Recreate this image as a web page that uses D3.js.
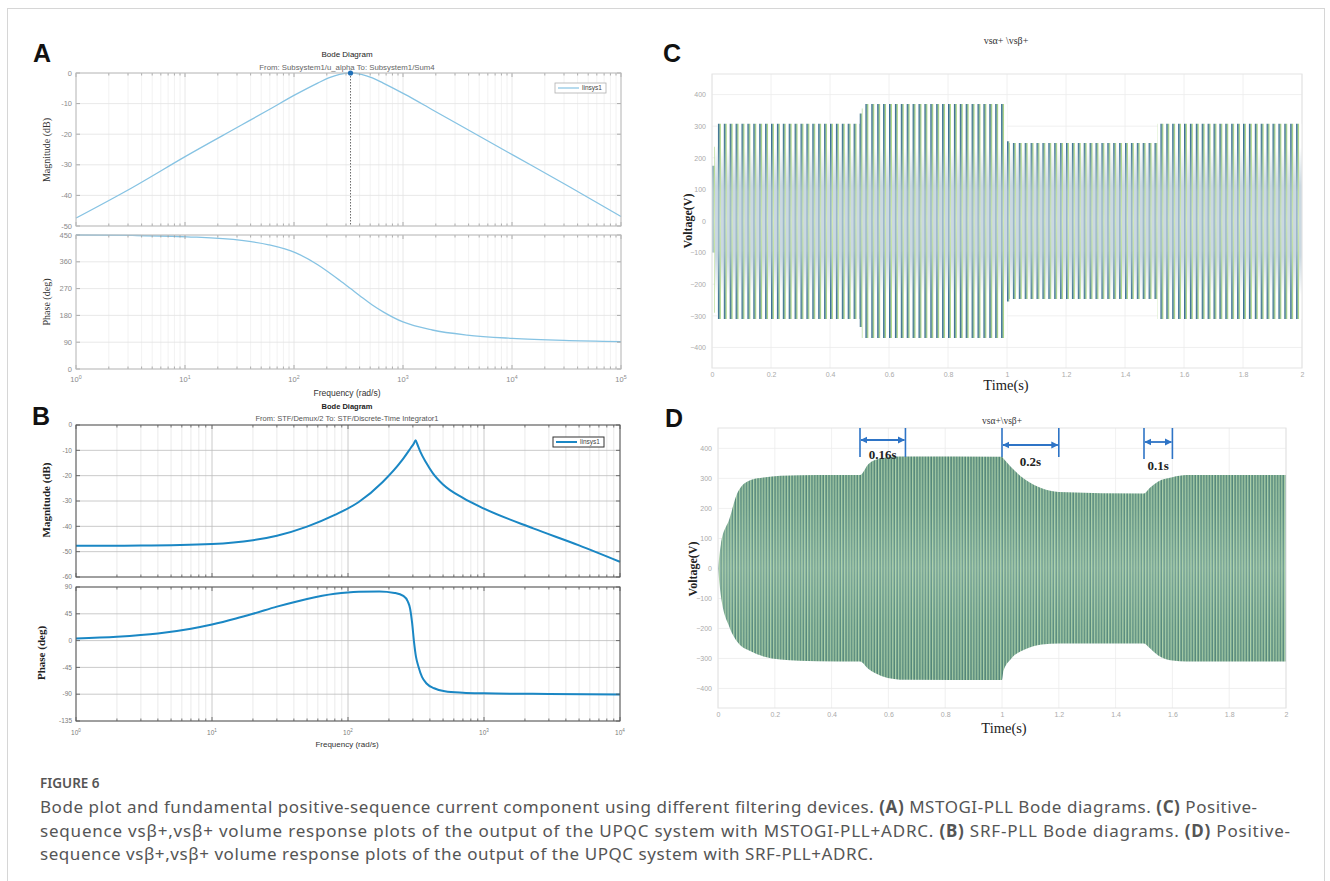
<!DOCTYPE html>
<html>
<head>
<meta charset="utf-8">
<script src="https://cdn.jsdelivr.net/npm/d3@7"></script>
<style>
  body { margin: 0; background: #fff; }
  svg { display: block; }
</style>
</head>
<body>
<svg id="fig" width="1330" height="881"></svg>
<script>
// Figure 6: Bode plots (A, B) and positive-sequence voltage responses (C, D)

// ---- panel A: MSTOGI-PLL bode ----
const freqMagA = [1, 3.3, 10.4, 33, 58.7, 104, 165, 208, 262, 330, 415, 523, 658, 1044, 1856, 3300, 10436, 33000, 100000];
const magA = [-47.4, -37.4, -27, -17, -12, -7, -3.3, -1.6, -0.44, 0, -0.44, -1.6, -3.3, -7, -12, -17, -27, -37, -46.9];
const freqPhaseA = [1, 3.3, 10.4, 33, 58.7, 104, 165, 208, 262, 330, 415, 523, 658, 1000, 1856, 3865, 10000, 30000, 100000];
const phaseA = [450, 448.5, 444, 432, 417, 390, 350, 325, 298, 270, 242, 215, 192, 158, 131, 114, 103, 96, 92];
const peakA = [330, 0];

// ---- panel B: SRF-PLL bode ----
const freqMagB = [1, 3, 10, 20, 30, 50, 80, 120, 180, 250, 290, 305, 314, 323, 340, 377, 420, 500, 700, 1000, 2300, 5000, 10000];
const magB = [-47.7, -47.6, -47, -45.5, -43.7, -40.1, -35.5, -30.4, -22.5, -13.9, -9, -7.3, -6, -7.5, -10.5, -15, -19, -23.5, -28.8, -33, -40.8, -47.5, -54];
const freqPhaseB = [1, 2, 4, 7, 10, 15, 20, 30, 50, 80, 120, 170, 220, 255, 275, 286, 296, 306, 316, 329, 350, 378, 430, 515, 700, 1000, 3000, 10000];
const phaseB = [3.5, 6.5, 12, 20, 27, 37, 45, 57, 70, 78.5, 82, 82.5, 80, 75, 66, 54, 30, -3, -27, -43, -61, -72, -80, -85, -87.5, -88.5, -89.6, -90.3];

// ---- panel C: MSTOGI-PLL+ADRC envelope (V), steps ----
const lineHz = 50;
const timeC = [0, 0.008, 0.018, 0.5, 0.508, 0.516, 1.0, 1.008, 1.51, 2.0];
const upperC = [175, 235, 308, 340, 356, 370, 252, 247, 308, 308];
const lowerC = [-100, -290, -310, -335, -370, -370, -255, -247, -310, -310];

// ---- panel D: SRF-PLL+ADRC envelope (V), smooth ----
const timeD = [0, 0.01, 0.04, 0.07, 0.115, 0.16, 0.22, 0.35, 0.5, 0.53, 0.575, 0.62, 0.66, 1.0, 1.005, 1.03, 1.08, 1.14, 1.2, 1.5, 1.52, 1.55, 1.6, 1.65, 2.0];
const upperD = [0, 80, 165, 255, 295, 303, 309, 311, 311, 348, 367, 372, 373, 372, 366, 340, 297, 267, 255, 250, 268, 290, 304, 311, 311];
const lowerD = [0, -90, -195, -247, -276, -293, -303, -309, -310, -335, -358, -368, -371, -372, -342, -303, -270, -253, -250, -250, -265, -290, -307, -310, -310];
const settleStart = [0.5, 1.0, 1.5];
const settleTime = [0.16, 0.2, 0.1];

// ---- ticks ----
const magTicksA = [-50, -40, -30, -20, -10, 0];
const phaseTicksA = [0, 90, 180, 270, 360, 450];
const magTicksB = [-60, -50, -40, -30, -20, -10, 0];
const phaseTicksB = [-135, -90, -45, 0, 45, 90];
const timeTicks = [0, 0.2, 0.4, 0.6, 0.8, 1, 1.2, 1.4, 1.6, 1.8, 2];
const voltTicks = [-400, -300, -200, -100, 0, 100, 200, 300, 400];

const W = 1330, H = 881;
const sans = "'Liberation Sans', Arial, sans-serif";
const serif = "'Liberation Serif', 'Times New Roman', serif";
const capFont = "'Noto Sans', 'Open Sans', sans-serif";

const svg = d3.select("#fig");
const defs = svg.append("defs");

svg.append("rect")
  .attr("x", 7.5).attr("y", 8.5).attr("width", 1317).attr("height", 890)
  .attr("fill", "none").attr("stroke", "#d6d6d6");

// scales
const xA = d3.scaleLog().domain([1, 1e5]).range([76, 621]);
const yMagA = d3.scaleLinear().domain([-50, 0]).range([226, 73]);
const yPhA = d3.scaleLinear().domain([0, 450]).range([369, 235]);
const xB = d3.scaleLog().domain([1, 1e4]).range([76, 620]);
const yMagB = d3.scaleLinear().domain([-60, 0]).range([577, 425]);
const yPhB = d3.scaleLinear().domain([-135, 90]).range([721, 587]);
const xC = d3.scaleLinear().domain([0, 2]).range([712, 1302]);
const yC = d3.scaleLinear().domain([-465, 465]).range([368, 74]);
const xD = d3.scaleLinear().domain([0, 2]).range([718, 1286]);
const yD = d3.scaleLinear().domain([-465, 468]).range([708, 428]);

const isDecade = d => Math.abs(Math.log10(d) - Math.round(Math.log10(d))) < 1e-9;

const styleA = { grid: "#efefef", gridMajor: "#e2e2e2", frame: "#bdbdbd", tick: "#9a9a9a", label: "#8a8a8a", fs: 7.5, xlab: 13 };
const styleB = { grid: "#e4e4e4", gridMajor: "#bcbcbc", frame: "#5a5a5a", tick: "#555", label: "#7a7a7a", fs: 6.5, xlab: 14 };

function logGrid(g, x, y, yTicks, st) {
  const [xl, xr] = x.range();
  const [yb, yt] = y.range();
  g.append("g").selectAll("line").data(x.ticks()).join("line")
    .attr("x1", d => x(d)).attr("x2", d => x(d))
    .attr("y1", yt).attr("y2", yb)
    .attr("stroke", d => isDecade(d) ? st.gridMajor : st.grid)
    .attr("stroke-width", 0.8);
  g.append("g").selectAll("line").data(yTicks).join("line")
    .attr("x1", xl).attr("x2", xr)
    .attr("y1", d => y(d)).attr("y2", d => y(d))
    .attr("stroke", st.gridMajor).attr("stroke-width", 0.8);
}

function logFrame(g, x, y, yTicks, st, xLabels) {
  const [xl, xr] = x.range();
  const [yb, yt] = y.range();
  const tk = g.append("g").attr("stroke", st.tick).attr("stroke-width", 0.8);
  x.ticks().forEach(d => {
    const len = isDecade(d) ? 4 : 2.5;
    tk.append("line").attr("x1", x(d)).attr("x2", x(d)).attr("y1", yb).attr("y2", yb - len);
    tk.append("line").attr("x1", x(d)).attr("x2", x(d)).attr("y1", yt).attr("y2", yt + len);
  });
  yTicks.forEach(d => {
    tk.append("line").attr("x1", xl).attr("x2", xl + 4).attr("y1", y(d)).attr("y2", y(d));
    tk.append("line").attr("x1", xr).attr("x2", xr - 4).attr("y1", y(d)).attr("y2", y(d));
  });
  g.append("rect")
    .attr("x", xl).attr("y", yt).attr("width", xr - xl).attr("height", yb - yt)
    .attr("fill", "none").attr("stroke", st.frame).attr("stroke-width", 1);

  g.append("g").selectAll("text").data(yTicks).join("text")
    .attr("x", xl - 4).attr("y", d => y(d)).attr("dy", "0.35em")
    .attr("text-anchor", "end").attr("font-family", sans)
    .attr("font-size", st.fs).attr("fill", st.label)
    .text(d => d);

  if (xLabels) {
    const lab = g.append("g").selectAll("text").data(x.ticks().filter(isDecade)).join("text")
      .attr("x", d => x(d)).attr("y", yb + st.xlab)
      .attr("text-anchor", "middle").attr("font-family", sans)
      .attr("font-size", st.fs).attr("fill", st.label);
    lab.append("tspan").text("10");
    lab.append("tspan").attr("dy", -3).attr("font-size", st.fs * 0.7)
      .text(d => Math.round(Math.log10(d)));
  }
}

function curve(g, x, y, fx, fy, color, width) {
  g.append("path")
    .datum(fx.map((f, i) => [f, fy[i]]))
    .attr("fill", "none").attr("stroke", color).attr("stroke-width", width)
    .attr("stroke-linejoin", "round")
    .attr("d", d3.line().x(d => x(d[0])).y(d => y(d[1])).curve(d3.curveMonotoneX));
}

function legend(g, x, y, st, color, width, frameColor) {
  g.append("rect").attr("x", x).attr("y", y).attr("width", 51).attr("height", 10)
    .attr("fill", "#fff").attr("stroke", frameColor).attr("stroke-width", st);
  g.append("line").attr("x1", x + 3).attr("x2", x + 24).attr("y1", y + 5).attr("y2", y + 5)
    .attr("stroke", color).attr("stroke-width", width);
  g.append("text").attr("x", x + 27).attr("y", y + 7.2)
    .attr("font-family", sans).attr("font-size", 6.5).attr("fill", "#444").text("linsys1");
}

function panelLetter(t, x, y) {
  svg.append("text").attr("x", x).attr("y", y)
    .attr("font-family", sans).attr("font-weight", "bold").attr("font-size", 25)
    .attr("fill", "#111").text(t);
}

function centered(txt, x, y, size, family, fill, weight) {
  return svg.append("text").attr("x", x).attr("y", y).attr("text-anchor", "middle")
    .attr("font-family", family).attr("font-size", size).attr("fill", fill)
    .attr("font-weight", weight || "normal").text(txt);
}

function rotated(txt, x, y, size, family, fill, weight) {
  return svg.append("text").attr("transform", `translate(${x},${y}) rotate(-90)`)
    .attr("text-anchor", "middle").attr("font-family", family).attr("font-size", size)
    .attr("fill", fill).attr("font-weight", weight || "normal").text(txt);
}

// ================= panel A =================
const gA = svg.append("g");
logGrid(gA, xA, yMagA, magTicksA, styleA);
logGrid(gA, xA, yPhA, phaseTicksA, styleA);
curve(gA, xA, yMagA, freqMagA, magA, "#86c3e3", 1.3);
curve(gA, xA, yPhA, freqPhaseA, phaseA, "#86c3e3", 1.3);
gA.append("line")
  .attr("x1", xA(peakA[0])).attr("x2", xA(peakA[0]))
  .attr("y1", yMagA(peakA[1])).attr("y2", yMagA.range()[0])
  .attr("stroke", "#444").attr("stroke-width", 0.8).attr("stroke-dasharray", "1.5,1.5");
logFrame(gA, xA, yMagA, magTicksA, styleA, false);
logFrame(gA, xA, yPhA, phaseTicksA, styleA, true);
gA.append("circle").attr("cx", xA(peakA[0])).attr("cy", yMagA(peakA[1])).attr("r", 2.6)
  .attr("fill", "#1f6fb8");
legend(gA, 555, 83, 0.8, "#86c3e3", 1.2, "#b0b0b0");

panelLetter("A", 33, 62);
centered("Bode Diagram", 347, 57, 8, sans, "#222");
centered("From: Subsystem1/u_alpha  To: Subsystem1/Sum4", 347, 70, 7.8, sans, "#666");
centered("Frequency  (rad/s)", 347, 396, 8.5, sans, "#333");
rotated("Magnitude (dB)", 50, 150, 10, serif, "#333");
rotated("Phase (deg)", 50, 302, 10, serif, "#333");

// ================= panel B =================
const gB = svg.append("g");
logGrid(gB, xB, yMagB, magTicksB, styleB);
logGrid(gB, xB, yPhB, phaseTicksB, styleB);
curve(gB, xB, yMagB, freqMagB, magB, "#1a87c4", 2);
curve(gB, xB, yPhB, freqPhaseB, phaseB, "#1a87c4", 2);
logFrame(gB, xB, yMagB, magTicksB, styleB, false);
logFrame(gB, xB, yPhB, phaseTicksB, styleB, true);
legend(gB, 553, 437, 1, "#1a87c4", 2, "#333");

panelLetter("B", 32, 425);
centered("Bode Diagram", 347, 409, 7.5, sans, "#222", "bold");
centered("From: STF/Demux/2 To: STF/Discrete-Time Integrator1", 347, 421, 7.5, sans, "#555");
centered("Frequency (rad/s)", 347, 747, 8, sans, "#333");
rotated("Magnitude (dB)", 50, 500, 11, serif, "#222", "bold");
rotated("Phase (deg)", 45, 653, 11, serif, "#222", "bold");

// ================= waveform panels =================
function waveGrid(g, x, y) {
  const [xl, xr] = x.range();
  const [yb, yt] = y.range();
  g.append("g").selectAll("line").data(timeTicks).join("line")
    .attr("x1", d => x(d)).attr("x2", d => x(d)).attr("y1", yt).attr("y2", yb)
    .attr("stroke", "#ececec").attr("stroke-width", 0.8);
  g.append("g").selectAll("line").data(voltTicks).join("line")
    .attr("x1", xl).attr("x2", xr).attr("y1", d => y(d)).attr("y2", d => y(d))
    .attr("stroke", "#ececec").attr("stroke-width", 0.8);
}

function waveAxes(g, x, y) {
  const [xl, xr] = x.range();
  const [yb, yt] = y.range();
  g.append("rect").attr("x", xl).attr("y", yt).attr("width", xr - xl).attr("height", yb - yt)
    .attr("fill", "none").attr("stroke", "#e3e3e3").attr("stroke-width", 1);
  const ax = g.append("g").attr("transform", `translate(0,${yb})`)
    .call(d3.axisBottom(x).tickValues(timeTicks).tickSize(0).tickPadding(4).tickFormat(d3.format("~g")));
  const ay = g.append("g").attr("transform", `translate(${xl},0)`)
    .call(d3.axisLeft(y).tickValues(voltTicks).tickSize(0).tickPadding(6));
  [ax, ay].forEach(a => {
    a.select(".domain").remove();
    a.selectAll("text").attr("fill", "#aaa").attr("font-size", 7).attr("font-family", sans);
  });
}

// stripe pattern for C: one tile per mains cycle
const cycleC = xC(1 / lineHz) - xC(0);
function vGrad(id, y, stops) {
  const gr = defs.append("linearGradient").attr("id", id).attr("gradientUnits", "userSpaceOnUse")
    .attr("x1", 0).attr("x2", 0).attr("y1", y.range()[1]).attr("y2", y.range()[0]);
  stops.forEach(s => gr.append("stop").attr("offset", s[0]).attr("stop-color", s[1]));
}
vGrad("gapC", yC, [[0, "#ffffff"], [0.25, "#ffffff"], [0.38, "#cad8e1"], [0.62, "#cad8e1"], [0.75, "#ffffff"], [1, "#ffffff"]]);
vGrad("darkC", yC, [[0, "#32698a"], [0.25, "#3f7597"], [0.4, "#97b5c9"], [0.6, "#97b5c9"], [0.75, "#3f7597"], [1, "#32698a"]]);
vGrad("greenC", yC, [[0, "#a2d27a"], [0.3, "#b2da88"], [0.5, "#d2eab4"], [0.7, "#b2da88"], [1, "#a2d27a"]]);
const patC = defs.append("pattern").attr("id", "stripeC").attr("patternUnits", "userSpaceOnUse")
  .attr("x", xC(0)).attr("y", 0).attr("width", cycleC).attr("height", H);
patC.append("rect").attr("width", cycleC).attr("height", H).attr("fill", "url(#gapC)");
patC.append("rect").attr("x", 0).attr("width", 1.7).attr("height", H).attr("fill", "url(#darkC)");
patC.append("rect").attr("x", 1.7).attr("width", 1.2).attr("height", H).attr("fill", "url(#greenC)");

// denser stripes for D (alpha and beta crossings)
const cycleD = (xD(1 / lineHz) - xD(0)) / 2;
vGrad("bgD", yD, [[0, "#6a9a88"], [0.3, "#7aa897"], [0.5, "#8db6a8"], [0.7, "#7aa897"], [1, "#6a9a88"]]);
vGrad("darkD", yD, [[0, "#2f655e"], [0.3, "#3f756d"], [0.5, "#5a8a82"], [0.7, "#3f756d"], [1, "#2f655e"]]);
const patD = defs.append("pattern").attr("id", "stripeD").attr("patternUnits", "userSpaceOnUse")
  .attr("x", xD(0)).attr("y", 0).attr("width", cycleD).attr("height", H);
patD.append("rect").attr("width", cycleD).attr("height", H).attr("fill", "url(#bgD)");
patD.append("rect").attr("x", 0).attr("width", 0.8).attr("height", H).attr("fill", "url(#darkD)");
patD.append("rect").attr("x", 0.8).attr("width", 0.9).attr("height", H).attr("fill", "#b9dcae");

// ================= panel C =================
const gC = svg.append("g");
waveGrid(gC, xC, yC);
gC.append("path")
  .datum(timeC.map((t, i) => [t, upperC[i], lowerC[i]]))
  .attr("fill", "url(#stripeC)")
  .attr("d", d3.area().x(d => xC(d[0])).y0(d => yC(d[2])).y1(d => yC(d[1])).curve(d3.curveStepAfter));
waveAxes(gC, xC, yC);
panelLetter("C", 663, 62);
centered("vsα+ \\vsβ+", 1006, 44, 10, serif, "#333");
centered("Time(s)", 1006, 390, 14.5, serif, "#222");
rotated("Voltage(V)", 692, 221, 12, serif, "#222", "bold");

// ================= panel D =================
const gD = svg.append("g");
waveGrid(gD, xD, yD);
gD.append("path")
  .datum(timeD.map((t, i) => [t, upperD[i], lowerD[i]]))
  .attr("fill", "url(#stripeD)")
  .attr("d", d3.area().x(d => xD(d[0])).y0(d => yD(d[2])).y1(d => yD(d[1])).curve(d3.curveMonotoneX));
waveAxes(gD, xD, yD);
panelLetter("D", 665, 427);
centered("vsα+\\vsβ+", 1002, 424, 9.5, serif, "#333");
centered("Time(s)", 1004, 733, 14.5, serif, "#222");
rotated("Voltage(V)", 697, 569, 12, serif, "#222", "bold");

// settling-time annotations
const annBlue = "#2e74c6";
defs.append("marker").attr("id", "arrowHead").attr("viewBox", "0 0 10 10")
  .attr("refX", 9).attr("refY", 5).attr("markerWidth", 4).attr("markerHeight", 4)
  .attr("orient", "auto-start-reverse")
  .append("path").attr("d", "M0,0L10,5L0,10z").attr("fill", annBlue);
const arrowDy = [12, 17, 14];
const lineDy = [29, 29, 31];
const labelDy = [31, 38, 42];
const topD = yD.range()[1];
const ann = gD.append("g");
settleStart.forEach((t0, i) => {
  const t1 = t0 + settleTime[i];
  [t0, t1].forEach(t => ann.append("line")
    .attr("x1", xD(t)).attr("x2", xD(t)).attr("y1", topD).attr("y2", topD + lineDy[i])
    .attr("stroke", annBlue).attr("stroke-width", 1.6));
  ann.append("line")
    .attr("x1", xD(t0) + 1).attr("x2", xD(t1) - 1)
    .attr("y1", topD + arrowDy[i]).attr("y2", topD + arrowDy[i])
    .attr("stroke", annBlue).attr("stroke-width", 1.8)
    .attr("marker-start", "url(#arrowHead)").attr("marker-end", "url(#arrowHead)");
  ann.append("text")
    .attr("x", (xD(t0) + xD(t1)) / 2).attr("y", topD + labelDy[i])
    .attr("text-anchor", "middle").attr("font-family", serif).attr("font-weight", "bold")
    .attr("font-size", 13).attr("fill", "#222")
    .text(d3.format("~g")(settleTime[i]) + "s");
});

// ================= caption =================
svg.append("text").attr("x", 40).attr("y", 788)
  .attr("font-family", capFont).attr("font-size", 13.5)
  .attr("font-weight", 600).attr("fill", "#555").text("FIGURE 6");

const captionLines = [
  [["Bode plot and fundamental positive-sequence current component using different filtering devices. ", 0], ["(A)", 1], [" MSTOGI-PLL Bode diagrams. ", 0], ["(C)", 1], [" Positive-", 0]],
  [["sequence vsβ+,vsβ+ volume response plots of the output of the UPQC system with MSTOGI-PLL+ADRC. ", 0], ["(B)", 1], [" SRF-PLL Bode diagrams. ", 0], ["(D)", 1], [" Positive-", 0]],
  [["sequence vsβ+,vsβ+ volume response plots of the output of the UPQC system with SRF-PLL+ADRC.", 0]]
];
const captionBase = [813, 837, 860];
const captionWidth = [1217, 1250, 833];
captionLines.forEach((segs, i) => {
  const t = svg.append("text").attr("x", 40).attr("y", captionBase[i])
    .attr("font-family", capFont).attr("font-size", 17)
    .attr("fill", "#555")
    .attr("textLength", captionWidth[i]).attr("lengthAdjust", "spacing");
  segs.forEach(s => t.append("tspan").attr("font-weight", s[1] ? "bold" : "normal").text(s[0]));
});
</script>
</body>
</html>
